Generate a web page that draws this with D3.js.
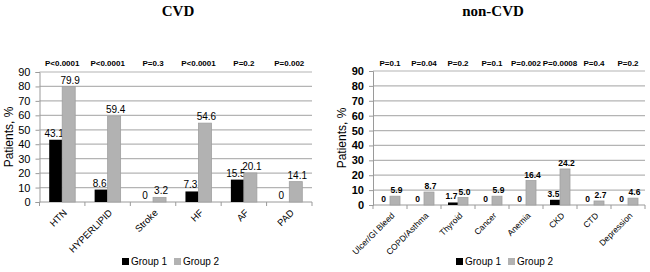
<!DOCTYPE html>
<html>
<head>
<meta charset="utf-8">
<script src="https://cdn.jsdelivr.net/npm/d3@7"></script>
<style>
  body { margin: 0; background: #fff; }
  text { font-family: "Liberation Sans", Arial, sans-serif; fill: #000; }
</style>
</head>
<body>
<div id="chart"></div>
<script>
const cvdCategories = ["HTN", "HYPERLIPID", "Stroke", "HF", "AF", "PAD"];
const cvdGroup1 = [43.1, 8.6, 0, 7.3, 15.5, 0];
const cvdGroup2 = [79.9, 59.4, 3.2, 54.6, 20.1, 14.1];
const cvdPValues = ["P<0.0001", "P<0.0001", "P=0.3", "P<0.0001", "P=0.2", "P=0.002"];

const nonCategories = ["Ulcer/GI Bleed", "COPD/Asthma", "Thyroid", "Cancer", "Anemia", "CKD", "CTD", "Depression"];
const nonGroup1 = [0, 0, 1.7, 0, 0, 3.5, 0, 0];
const nonGroup2 = [5.9, 8.7, 5.0, 5.9, 16.4, 24.2, 2.7, 4.6];
const nonPValues = ["P=0.1", "P=0.04", "P=0.2", "P=0.1", "P=0.002", "P=0.0008", "P=0.4", "P=0.2"];

const yTicks = [0, 10, 20, 30, 40, 50, 60, 70, 80, 90];
const seriesNames = ["Group 1", "Group 2"];
const seriesColors = ["#000000", "#b2b2b2"];

const width = 650, height = 272;
const svg = d3.select("#chart").append("svg")
    .attr("width", width)
    .attr("height", height);

const fmt = v => v === 0 ? "0" : v.toFixed(1);

function drawPanel(opt) {
    const g = svg.append("g");
    const x = d3.scaleBand().domain(opt.categories).range([opt.left, opt.right]);
    const y = d3.scaleLinear().domain([0, 90]).range([opt.bottom, opt.top]);
    const bw = opt.barWidth;

    // title
    g.append("text")
        .attr("x", opt.titleX).attr("y", 16)
        .attr("text-anchor", "middle")
        .style("font-family", "'Liberation Serif', 'Times New Roman', serif")
        .style("font-weight", "bold")
        .style("font-size", "15px")
        .text(opt.title);

    // gridlines
    g.selectAll("line.grid").data(yTicks.slice(1)).enter().append("line")
        .attr("class", "grid")
        .attr("x1", opt.left).attr("x2", opt.right)
        .attr("y1", d => y(d)).attr("y2", d => y(d))
        .attr("stroke", "#b4b4b4").attr("stroke-width", 1.2);

    // y axis
    const yAxis = g.append("g")
        .attr("transform", `translate(${opt.left},0)`)
        .call(d3.axisLeft(y).tickValues(yTicks).tickSize(4).tickPadding(5));
    yAxis.select(".domain").attr("stroke", "#9a9a9a");
    yAxis.selectAll(".tick line").attr("stroke", "#9a9a9a");
    yAxis.selectAll(".tick text")
        .style("font-family", "'Liberation Sans', Arial, sans-serif")
        .style("font-size", "11px")
        .style("font-weight", opt.boldTicks ? "bold" : "normal")
        .attr("fill", "#000");

    // x axis line and boundary ticks
    g.append("line")
        .attr("x1", opt.left).attr("x2", opt.right)
        .attr("y1", y(0)).attr("y2", y(0))
        .attr("stroke", "#9a9a9a");
    const bounds = opt.categories.map(c => x(c)).concat([opt.right]);
    g.selectAll("line.xtick").data(bounds).enter().append("line")
        .attr("x1", d => d).attr("x2", d => d)
        .attr("y1", y(0)).attr("y2", y(0) + 4)
        .attr("stroke", "#9a9a9a");

    // bars and value labels
    const series = [opt.g1, opt.g2];
    series.forEach((vals, si) => {
        const offset = si === 0 ? -bw : 0;
        g.selectAll("rect.s" + si).data(vals).enter().append("rect")
            .attr("x", (d, i) => x(opt.categories[i]) + x.bandwidth() / 2 + offset)
            .attr("y", d => y(d))
            .attr("width", bw)
            .attr("height", d => y(0) - y(d))
            .attr("fill", seriesColors[si])
            .attr("stroke", si === 0 ? "none" : "#a0a0a0")
            .attr("stroke-width", 0.8);

        g.selectAll("text.l" + si).data(vals).enter().append("text")
            .attr("x", (d, i) => x(opt.categories[i]) + x.bandwidth() / 2 + offset + bw / 2 + (si === 0 ? -1.5 : 1.5))
            .attr("y", d => y(d) - 3)
            .attr("text-anchor", "middle")
            .style("font-size", opt.labelSize)
            .style("font-weight", opt.boldLabels ? "bold" : "normal")
            .text(d => fmt(d));
    });

    // p-values
    g.selectAll("text.p").data(opt.pvalues).enter().append("text")
        .attr("x", (d, i) => x(opt.categories[i]) + x.bandwidth() / 2)
        .attr("y", 66)
        .attr("text-anchor", "middle")
        .style("font-size", "8px")
        .style("font-weight", "bold")
        .text(d => d);

    // category labels
    g.selectAll("text.cat").data(opt.categories).enter().append("text")
        .attr("transform", d => `translate(${x(d) + x.bandwidth() / 2 + 3},${y(0) + 9}) rotate(-45)`)
        .attr("text-anchor", "end")
        .attr("dy", "0.35em")
        .style("font-size", opt.catSize)
        .text(d => d);

    // y title
    g.append("text")
        .attr("transform", `translate(${opt.yTitleX},${(opt.top + opt.bottom) / 2}) rotate(-90)`)
        .attr("text-anchor", "middle")
        .style("font-size", "12px")
        .text("Patients, %");

    // legend
    const lg = g.append("g").attr("transform", `translate(${opt.legendX},265)`);
    seriesNames.forEach((name, i) => {
        const item = lg.append("g").attr("transform", `translate(${i * opt.legendGap},0)`);
        item.append("rect")
            .attr("x", 0).attr("y", -7).attr("width", 7).attr("height", 7)
            .attr("fill", seriesColors[i]);
        item.append("text")
            .attr("x", 9).attr("y", 0)
            .style("font-size", "10px")
            .text(name);
    });
}

drawPanel({
    title: "CVD", titleX: 178,
    categories: cvdCategories, g1: cvdGroup1, g2: cvdGroup2, pvalues: cvdPValues,
    left: 39.5, right: 312, top: 72, bottom: 202,
    barWidth: 13, labelSize: "10px", boldLabels: false, boldTicks: false,
    catSize: "9.5px", yTitleX: 13, legendX: 122, legendGap: 52
});

drawPanel({
    title: "non-CVD", titleX: 493,
    categories: nonCategories, g1: nonGroup1, g2: nonGroup2, pvalues: nonPValues,
    left: 373, right: 645, top: 71, bottom: 205,
    barWidth: 10, labelSize: "8.5px", boldLabels: true, boldTicks: true,
    catSize: "8.5px", yTitleX: 346, legendX: 456, legendGap: 52
});
</script>
</body>
</html>
